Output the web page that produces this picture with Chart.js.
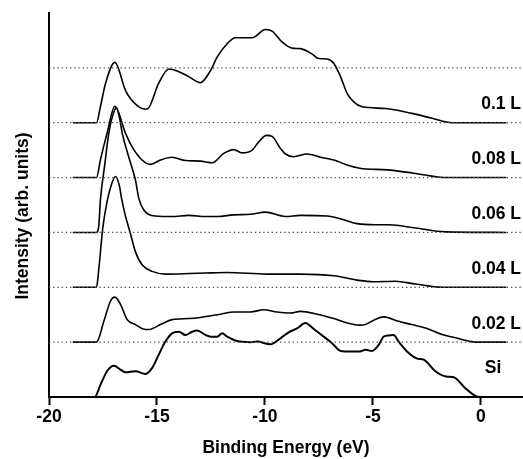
<!DOCTYPE html>
<html>
<head>
<meta charset="utf-8">
<script src="https://cdn.jsdelivr.net/npm/chart.js@4.4.1/dist/chart.umd.min.js"></script>
<style>
  html, body { margin: 0; padding: 0; background: #fff; }
  #wrap { width: 523px; height: 459px; }
</style>
</head>
<body>
<div id="wrap"><canvas id="chart" width="523" height="459"></canvas></div>
<script>
// spectra: [binding energy (eV), intensity above its own baseline]
var siData = [[-18.9,0],[-17.88,0],[-17.62,0.22],[-17.31,0.47],[-17.0,0.57],[-16.69,0.5],[-16.46,0.45],[-16.0,0.47],[-15.53,0.42],[-15.22,0.53],[-14.92,0.77],[-14.61,1.01],[-14.3,1.16],[-13.99,1.19],[-13.68,1.13],[-13.37,1.19],[-13.14,1.21],[-12.75,1.13],[-12.52,1.1],[-12.21,1.1],[-11.98,1.16],[-11.75,1.1],[-11.29,1.02],[-10.67,1.0],[-10.37,1.01],[-9.75,0.96],[-9.28,1.07],[-8.9,1.18],[-8.51,1.25],[-8.13,1.35],[-7.74,1.24],[-7.28,1.1],[-6.89,0.98],[-6.5,0.84],[-6.04,0.83],[-5.6,0.83],[-5.35,0.86],[-5.04,0.84],[-4.73,0.95],[-4.5,1.1],[-4.04,1.13],[-3.81,1.01],[-3.34,0.8],[-2.95,0.7],[-2.65,0.68],[-2.11,0.47],[-1.56,0.37],[-1.26,0.36],[-0.72,0.16],[-0.26,0.02],[-0.03,0],[1.18,0]];
var l002Data = [[-18.9,0],[-17.8,0],[-17.46,0.38],[-17.15,0.75],[-16.95,0.82],[-16.69,0.69],[-16.38,0.41],[-16.0,0.32],[-15.53,0.23],[-15.38,0.23],[-14.84,0.32],[-14.3,0.41],[-13.53,0.43],[-12.99,0.45],[-12.06,0.51],[-11.44,0.55],[-10.67,0.55],[-10.06,0.59],[-9.44,0.55],[-8.82,0.53],[-8.36,0.56],[-7.58,0.51],[-6.81,0.43],[-6.19,0.35],[-5.61,0.31],[-5.35,0.32],[-4.96,0.4],[-4.5,0.46],[-3.81,0.38],[-3.19,0.32],[-2.49,0.25],[-1.8,0.14],[-1.18,0.08],[-0.57,0.02],[-0.26,0],[1.18,0]];
var l004Data = [[-18.9,0],[-17.8,0],[-17.69,0.35],[-17.51,1.08],[-17.34,1.5],[-17.15,1.82],[-16.92,2.02],[-16.74,1.85],[-16.64,1.62],[-16.46,1.3],[-16.23,0.98],[-16.0,0.65],[-15.69,0.41],[-15.22,0.29],[-14.61,0.24],[-13.5,0.25],[-12.75,0.26],[-11.75,0.27],[-9.9,0.24],[-8.36,0.24],[-6.81,0.21],[-5.73,0.13],[-5.0,0.1],[-3.96,0.11],[-3.03,0.06],[-1.8,0],[1.18,0]];
var l006Data = [[-18.9,0],[-17.8,0],[-17.7,0.1],[-17.62,0.59],[-17.43,1.2],[-17.23,1.81],[-17.06,2.12],[-16.88,2.27],[-16.74,2.1],[-16.61,1.81],[-16.31,1.38],[-16.0,0.96],[-15.84,0.62],[-15.61,0.41],[-15.07,0.3],[-14.3,0.29],[-13.53,0.31],[-12.75,0.29],[-12.21,0.29],[-11.44,0.32],[-10.67,0.33],[-9.98,0.37],[-9.05,0.29],[-8.36,0.31],[-7.12,0.3],[-6.35,0.23],[-5.73,0.16],[-4.88,0.14],[-4.27,0.14],[-3.03,0.08],[-1.64,0.01],[1.18,0]];
var l008Data = [[-18.9,0],[-17.8,0],[-17.62,0.32],[-17.31,0.81],[-16.95,1.3],[-16.46,0.81],[-16.15,0.56],[-15.69,0.32],[-15.3,0.24],[-14.84,0.32],[-14.3,0.37],[-13.68,0.31],[-12.99,0.3],[-12.44,0.27],[-11.91,0.44],[-11.44,0.51],[-11.06,0.45],[-10.59,0.5],[-10.29,0.65],[-9.93,0.77],[-9.67,0.75],[-9.28,0.53],[-9.05,0.43],[-8.67,0.38],[-8.05,0.43],[-7.43,0.37],[-6.81,0.32],[-6.19,0.23],[-5.61,0.17],[-4.34,0.14],[-3.11,0.08],[-1.57,0],[1.18,0]];
var l010Data = [[-18.9,0],[-17.8,0],[-17.62,0.29],[-17.38,0.72],[-16.95,1.1],[-16.46,0.59],[-16.23,0.44],[-15.69,0.26],[-15.45,0.25],[-14.92,0.72],[-14.45,0.98],[-13.99,0.93],[-13.53,0.84],[-12.99,0.73],[-12.52,0.95],[-12.21,1.2],[-11.75,1.44],[-11.37,1.55],[-10.59,1.55],[-9.98,1.7],[-9.67,1.67],[-9.2,1.47],[-8.74,1.36],[-8.36,1.35],[-7.81,1.25],[-7.51,1.17],[-7.12,1.16],[-6.81,1.08],[-6.5,0.84],[-6.19,0.53],[-5.89,0.38],[-5.5,0.29],[-4.42,0.26],[-3.19,0.17],[-2.26,0.08],[-1.33,0],[1.18,0]];

var seriesLabels = ["Si", "0.02 L", "0.04 L", "0.06 L", "0.08 L", "0.1 L"];
var seriesData = [siData, l002Data, l004Data, l006Data, l008Data, l010Data];
var seriesOffsets = [0, 1, 2, 3, 4, 5];
var dottedLevels = [1, 2, 3, 4, 5, 6];
var xTicks = [-20, -15, -10, -5, 0];

var FONT = "'Liberation Sans', Arial, sans-serif";

var datasets = [];
dottedLevels.forEach(function (lv) {
  datasets.push({
    data: [{x: -20, y: lv}, {x: 1.95, y: lv}],
    borderColor: '#555',
    borderWidth: 1.3,
    borderDash: [1.4, 2.8],
    pointRadius: 0,
    tension: 0
  });
});
seriesData.forEach(function (pts, i) {
  datasets.push({
    label: seriesLabels[i],
    data: pts.map(function (p) { return {x: p[0], y: p[1] + seriesOffsets[i]}; }),
    borderColor: '#000',
    borderWidth: i === 0 ? 2 : 1.6,
    pointRadius: 0,
    cubicInterpolationMode: 'monotone'
  });
});

// curve names and the y-axis title, drawn on the canvas
var textPlugin = {
  id: 'texts',
  afterDraw: function (chart) {
    var ctx = chart.ctx;
    var xs = chart.scales.x, ys = chart.scales.y;
    ctx.save();
    ctx.fillStyle = '#000';
    ctx.font = 'bold 17.5px ' + FONT;
    ctx.textBaseline = 'middle';
    seriesLabels.forEach(function (lab, i) {
      if (i === 0) {
        ctx.textAlign = 'center';
        ctx.fillText(lab, xs.getPixelForValue(0.56), ys.getPixelForValue(0.53));
      } else {
        ctx.textAlign = 'right';
        ctx.fillText(lab, xs.getPixelForValue(1.86), ys.getPixelForValue(seriesOffsets[i] + 0.335));
      }
    });
    ctx.translate(23, 216);
    ctx.rotate(-Math.PI / 2);
    ctx.textAlign = 'center';
    ctx.fillText('Intensity (arb. units)', 0, 0);
    ctx.restore();
  }
};

new Chart(document.getElementById('chart'), {
  type: 'line',
  data: { datasets: datasets },
  options: {
    responsive: false,
    animation: false,
    devicePixelRatio: 1,
    layout: { padding: { left: 49, top: 13, right: 0, bottom: 0 } },
    plugins: { legend: { display: false }, tooltip: { enabled: false } },
    scales: {
      x: {
        type: 'linear',
        min: -20,
        max: 1.95,
        afterBuildTicks: function (scale) {
          scale.ticks = xTicks.map(function (v) { return {value: v}; });
        },
        afterFit: function (scale) { scale.height = 62; },
        ticks: {
          color: '#000',
          font: { family: FONT, size: 17.5, weight: 'bold' },
          padding: 2,
          maxRotation: 0,
          callback: function (v) { return String(v); }
        },
        grid: { drawOnChartArea: false, tickLength: 8, tickWidth: 2, tickColor: '#000' },
        border: { color: '#000', width: 2 },
        title: {
          display: true,
          text: 'Binding Energy (eV)',
          color: '#000',
          font: { family: FONT, size: 17.5, weight: 'bold' },
          padding: { top: 0, bottom: 0 }
        }
      },
      y: {
        type: 'linear',
        min: 0,
        max: 7,
        afterFit: function (scale) { scale.width = 0; },
        ticks: { display: false },
        grid: { drawOnChartArea: false, drawTicks: false },
        border: { color: '#000', width: 2 }
      }
    }
  },
  plugins: [textPlugin]
});
</script>
</body>
</html>
